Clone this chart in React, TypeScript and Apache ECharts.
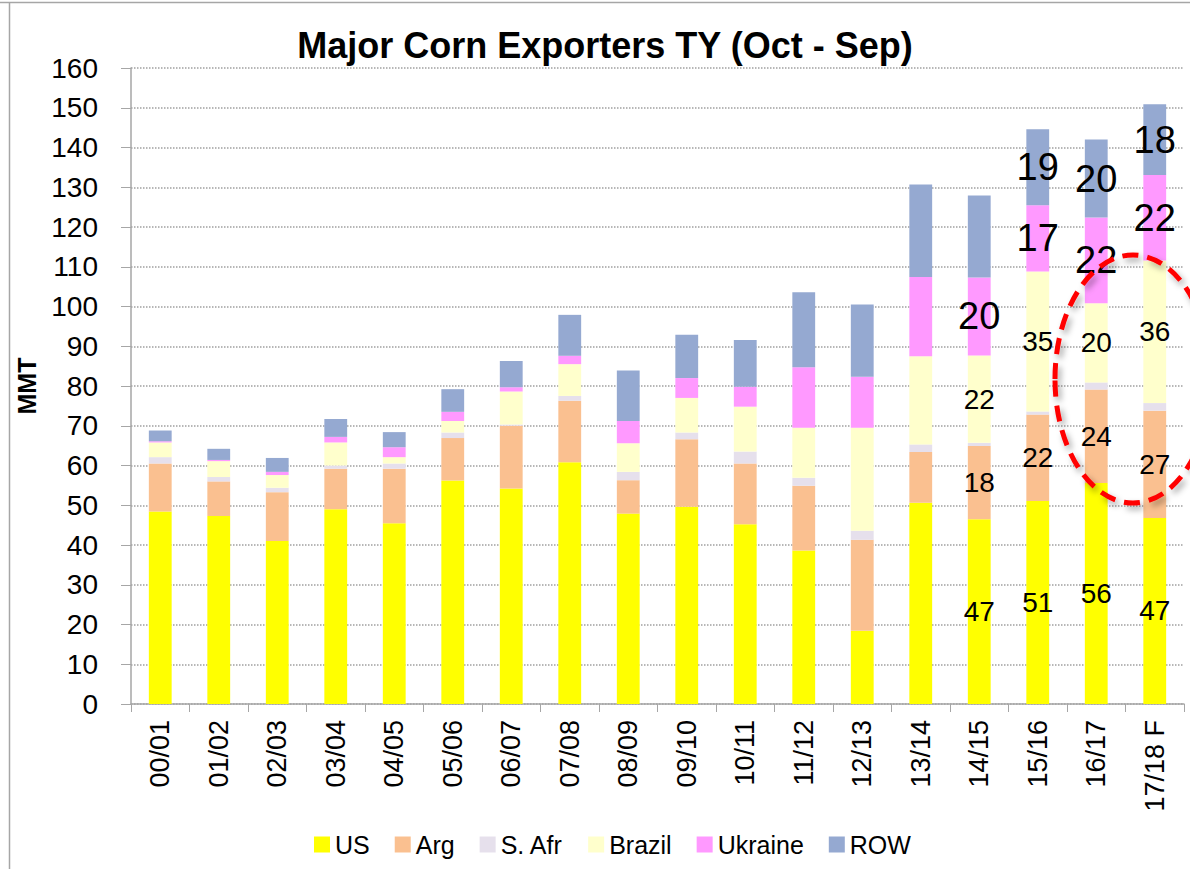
import React, { useEffect, useRef } from "react";
import * as echarts from "echarts";

const categories = [
  "00/01", "01/02", "02/03", "03/04", "04/05", "05/06", "06/07", "07/08", "08/09",
  "09/10", "10/11", "11/12", "12/13", "13/14", "14/15", "15/16", "16/17", "17/18 F",
];

const usValues = [48.4, 47.3, 41.0, 49.0, 45.5, 56.2, 54.2, 60.8, 47.9, 49.6, 45.2, 38.6, 18.4, 50.6, 46.5, 51.1, 55.6, 46.8];
const argValues = [12.1, 8.7, 12.3, 10.2, 13.7, 10.7, 15.8, 15.5, 8.4, 17.0, 15.3, 16.3, 22.9, 12.8, 18.4, 21.7, 23.5, 27.0];
const safrValues = [1.6, 1.1, 1.1, 0.8, 1.3, 1.4, 0.3, 1.2, 2.1, 1.7, 3.0, 2.0, 2.3, 1.9, 0.8, 0.8, 1.8, 1.9];
const brazilValues = [3.7, 4.0, 3.2, 5.8, 1.6, 2.9, 8.3, 8.0, 7.2, 8.7, 11.3, 12.6, 25.9, 22.2, 22.0, 35.2, 19.9, 35.9];
const ukraineValues = [0.3, 0.3, 0.8, 1.4, 2.5, 2.3, 1.1, 2.1, 5.6, 5.0, 5.0, 15.2, 12.8, 19.9, 19.6, 16.7, 21.6, 21.5];
const rowValues = [2.7, 2.8, 3.5, 4.5, 3.8, 5.7, 6.6, 10.3, 12.7, 10.9, 11.8, 18.9, 18.2, 23.3, 20.6, 19.1, 19.6, 17.8];

const yTicks = { min: 0, max: 160, interval: 10 };

const FONT = "'Liberation Sans', Arial, sans-serif";

export default function App() {
  const ref = useRef<HTMLDivElement>(null);

  useEffect(() => {
    document.body.style.margin = "0";
    if (!ref.current) return;
    const chart = echarts.init(ref.current, null, { renderer: "svg" });

    const makeData = (values: number[], fromIdx: number, fontSize: number) =>
      values.map((v, i) =>
        i >= fromIdx
          ? {
              value: v,
              label: {
                show: true,
                position: "inside",
                fontSize,
                color: "#000",
                fontFamily: FONT,
                formatter: (p: any) => String(Math.round(p.value)),
              },
            }
          : v
      );

    const mk = (name: string, color: string, data: any[]) => ({
      name,
      type: "bar",
      stack: "total",
      barWidth: "39%",
      itemStyle: { color },
      emphasis: { disabled: true },
      data,
    });

    const option: any = {
      animation: false,
      textStyle: { fontFamily: FONT },
      grid: { left: 131, right: 6, top: 68, bottom: 165, containLabel: false },
      legend: {
        left: 309,
        top: 827,
        itemWidth: 16,
        itemHeight: 16,
        itemGap: 25,
        icon: "rect",
        textStyle: { fontSize: 25, color: "#000", fontFamily: FONT },
        data: ["US", "Arg", "S. Afr", "Brazil", "Ukraine", "ROW"],
      },
      xAxis: {
        type: "category",
        data: categories,
        boundaryGap: true,
        axisLine: { lineStyle: { color: "#a6a6a6", width: 1.5 } },
        axisTick: { show: true, alignWithLabel: false, length: 8, lineStyle: { color: "#a6a6a6" } },
        axisLabel: { rotate: 90, fontSize: 27, color: "#000", margin: 16, fontFamily: FONT, interval: 0 },
        splitLine: { show: false },
      },
      yAxis: {
        type: "value",
        min: yTicks.min,
        max: yTicks.max,
        interval: yTicks.interval,
        name: "MMT",
        nameLocation: "middle",
        nameRotate: 90,
        nameGap: 92,
        nameTextStyle: { fontSize: 25, fontWeight: "bold", color: "#000", fontFamily: FONT },
        axisLine: { show: true, lineStyle: { color: "#a6a6a6", width: 1.5 } },
        axisTick: { show: true, length: 10, lineStyle: { color: "#a6a6a6" } },
        axisLabel: { fontSize: 28, color: "#000", margin: 33, fontFamily: FONT },
        splitLine: { show: true, lineStyle: { color: "#a0a0a0", type: "dotted", width: 1.5 } },
      },
      series: [
        mk("US", "#ffff00", makeData(usValues, 14, 28)),
        mk("Arg", "#fac090", makeData(argValues, 14, 28)),
        mk("S. Afr", "#e6e0ec", safrValues),
        mk("Brazil", "#ffffcc", makeData(brazilValues, 14, 28)),
        mk("Ukraine", "#ff99ff", makeData(ukraineValues, 14, 38)),
        mk("ROW", "#95a9d1", makeData(rowValues, 15, 38)),
      ],
      graphic: [
        {
          type: "text",
          x: 605,
          y: 45,
          style: {
            text: "Major Corn Exporters TY (Oct - Sep)",
            fontSize: 36,
            fontWeight: "bold",
            fontFamily: FONT,
            fill: "#000",
            textAlign: "center",
            textVerticalAlign: "middle",
          },
        },
        {
          type: "line",
          shape: { x1: 0, y1: 2.5, x2: 1190, y2: 2.5 },
          style: { stroke: "#a6a6a6", lineWidth: 1.5 },
        },
        {
          type: "line",
          shape: { x1: 9.5, y1: 2.5, x2: 9.5, y2: 869 },
          style: { stroke: "#a6a6a6", lineWidth: 1.5 },
        },
        {
          type: "ellipse",
          z: 100,
          shape: { cx: 1133, cy: 379, rx: 78, ry: 124 },
          style: {
            fill: "none",
            stroke: "#ff0000",
            lineWidth: 5,
            lineDash: [16, 9],
            shadowBlur: 6,
            shadowColor: "rgba(0,0,0,0.35)",
            shadowOffsetX: 3,
            shadowOffsetY: 4,
          },
        },
      ],
    };

    chart.setOption(option);
    return () => chart.dispose();
  }, []);

  return <div ref={ref} style={{ width: 1190, height: 869 }} />;
}
